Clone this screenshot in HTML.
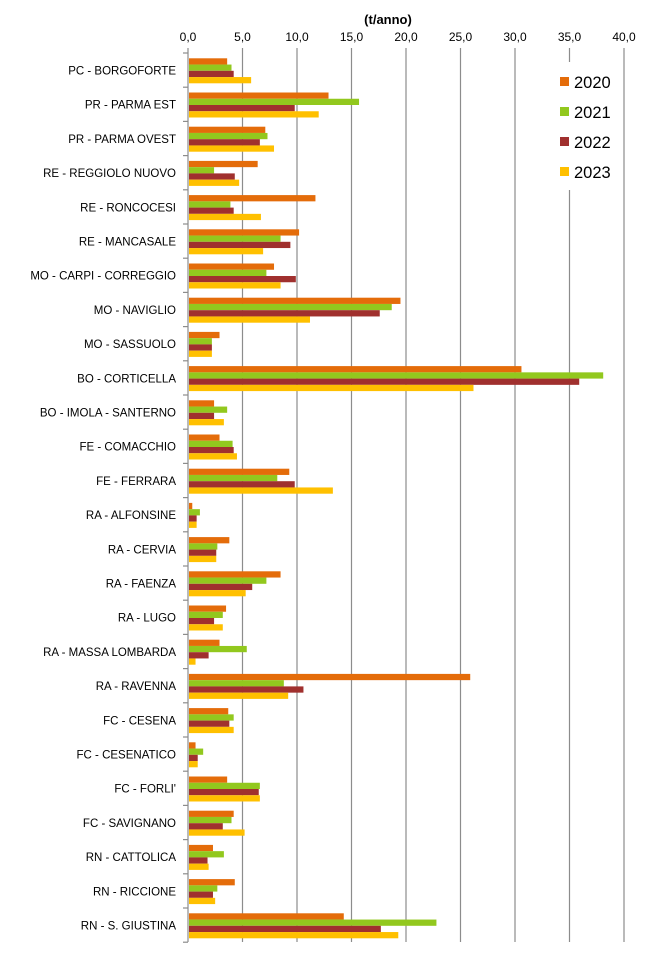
<!DOCTYPE html>
<html><head><meta charset="utf-8"><style>
html,body{margin:0;padding:0;background:#fff;}
svg{display:block;font-family:"Liberation Sans",sans-serif;}
</style></head><body>
<svg id="c" width="645" height="967" viewBox="0 0 645 967" xmlns="http://www.w3.org/2000/svg">
<g id="grid"></g>
<g id="bars"></g>
<rect x="549" y="62" width="70" height="128" fill="#fff"/>
<g font-size="16.5" fill="#000">
<rect x="560" y="77" width="9" height="9" fill="#E46C0A"/><text x="574" y="88">2020</text>
<rect x="560" y="107" width="9" height="9" fill="#92C81E"/><text x="574" y="118">2021</text>
<rect x="560" y="137" width="9" height="9" fill="#A0302E"/><text x="574" y="148">2022</text>
<rect x="560" y="167" width="9" height="9" fill="#FFC000"/><text x="574" y="178">2023</text>
</g>
<text x="388" y="24" font-size="13" font-weight="bold" text-anchor="middle">(t/anno)</text>
<g font-size="12" text-anchor="middle" fill="#000">
<text x="188" y="41">0,0</text><text x="242.5" y="41">5,0</text><text x="297" y="41">10,0</text><text x="351.5" y="41">15,0</text><text x="406" y="41">20,0</text><text x="460.5" y="41">25,0</text><text x="515" y="41">30,0</text><text x="569.5" y="41">35,0</text><text x="624" y="41">40,0</text>
</g>
<g font-size="11.5" text-anchor="end" fill="#000">
<text x="176" y="74.5">PC - BORGOFORTE</text>
<text x="176" y="108.7">PR - PARMA EST</text>
<text x="176" y="142.9">PR - PARMA OVEST</text>
<text x="176" y="177.1">RE - REGGIOLO NUOVO</text>
<text x="176" y="211.3">RE - RONCOCESI</text>
<text x="176" y="245.5">RE - MANCASALE</text>
<text x="176" y="279.7">MO - CARPI - CORREGGIO</text>
<text x="176" y="313.9">MO - NAVIGLIO</text>
<text x="176" y="348.1">MO - SASSUOLO</text>
<text x="176" y="382.3">BO - CORTICELLA</text>
<text x="176" y="416.5">BO - IMOLA - SANTERNO</text>
<text x="176" y="450.7">FE - COMACCHIO</text>
<text x="176" y="484.9">FE - FERRARA</text>
<text x="176" y="519.1">RA - ALFONSINE</text>
<text x="176" y="553.3">RA - CERVIA</text>
<text x="176" y="587.5">RA - FAENZA</text>
<text x="176" y="621.7">RA - LUGO</text>
<text x="176" y="655.9">RA - MASSA LOMBARDA</text>
<text x="176" y="690.1">RA - RAVENNA</text>
<text x="176" y="724.3">FC - CESENA</text>
<text x="176" y="758.5">FC - CESENATICO</text>
<text x="176" y="792.7">FC - FORLI'</text>
<text x="176" y="826.9">FC - SAVIGNANO</text>
<text x="176" y="861.1">RN - CATTOLICA</text>
<text x="176" y="895.3">RN - RICCIONE</text>
<text x="176" y="929.5">RN - S. GIUSTINA</text>
</g>
</svg>
<script>
var d=[[3.5,3.9,4.1,5.7],[12.8,15.6,9.7,11.9],[7.0,7.2,6.5,7.8],[6.3,2.3,4.2,4.6],[11.6,3.8,4.1,6.6],[10.1,8.4,9.3,6.8],[7.8,7.1,9.8,8.4],[19.4,18.6,17.5,11.1],[2.8,2.1,2.1,2.1],[30.5,38.0,35.8,26.1],[2.3,3.5,2.3,3.2],[2.8,4.0,4.1,4.4],[9.2,8.1,9.7,13.2],[0.3,1.0,0.7,0.7],[3.7,2.6,2.5,2.5],[8.4,7.1,5.8,5.2],[3.4,3.1,2.3,3.1],[2.8,5.3,1.8,0.6],[25.8,8.7,10.5,9.1],[3.6,4.1,3.7,4.1],[0.6,1.3,0.8,0.8],[3.5,6.5,6.4,6.5],[4.1,3.9,3.1,5.1],[2.2,3.2,1.7,1.8],[4.2,2.6,2.2,2.4],[14.2,22.7,17.6,19.2]];
var col=["#E46C0A","#92C81E","#A0302E","#FFC000"];
var NS="http://www.w3.org/2000/svg",g=document.getElementById("grid"),b=document.getElementById("bars");
function el(p,t,a){var e=document.createElementNS(NS,t);for(var k in a)e.setAttribute(k,a[k]);p.appendChild(e);}
var x0=188,s=10.9,y0=53,h=34.2;
for(var i=1;i<=8;i++){var x=x0+i*5*s;el(g,"line",{x1:x,x2:x,y1:y0-5,y2:942,stroke:"#8c8c8c","stroke-width":1.2});}
el(g,"line",{x1:x0,x2:x0,y1:y0-5,y2:942,stroke:"#8c8c8c","stroke-width":1.2});
for(var i=0;i<=26;i++){var y=y0+i*h;el(g,"line",{x1:x0-5,x2:x0,y1:y,y2:y,stroke:"#8c8c8c","stroke-width":1.2});}
d.forEach(function(r,i){r.forEach(function(v,j){el(b,"rect",{x:x0+1,y:y0+i*h+5.3+j*6.25,width:v*s,height:6.25,fill:col[j]});});});
</script>
</body></html>
